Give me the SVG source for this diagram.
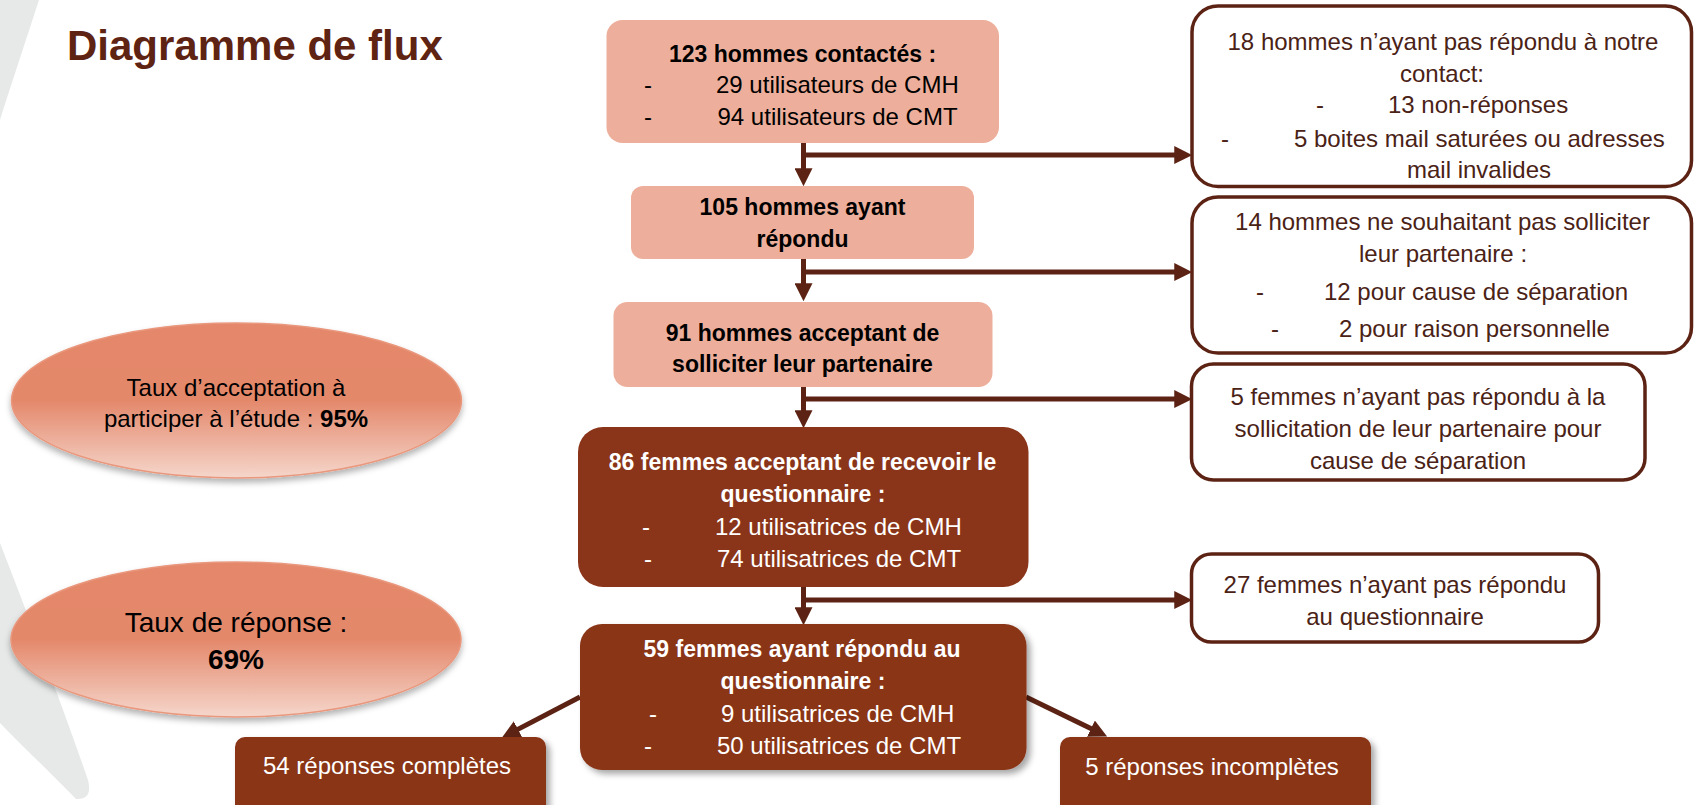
<svg xmlns="http://www.w3.org/2000/svg" width="1694" height="805" viewBox="0 0 1694 805">
<defs>
<style>
text{font-family:"Liberation Sans",Arial,sans-serif;}
.t{font-size:24px;}
.b{font-size:23px;font-weight:bold;}
.c{text-anchor:middle;}
.k{fill:#000;}
.w{fill:#fff;}
.br{fill:#4A2216;}
.salmon{fill:#EDAF9B;}
.dark{fill:#8A3519;}
.outl{fill:#fff;stroke:#5C2314;stroke-width:3.5;}
.conn{stroke:#5C2314;stroke-width:5;fill:none;marker-end:url(#ah);}
.ell{fill:url(#eg);stroke:#E9987E;stroke-width:1.5;filter:url(#esh);}
</style>
<marker id="ah" markerUnits="userSpaceOnUse" markerWidth="18" markerHeight="18" refX="6" refY="8" orient="auto" viewBox="0 0 16 16">
<path d="M0,0 L16,8 L0,16 Z" fill="#5C2314"/>
</marker>
<linearGradient id="eg" x1="0" y1="0" x2="0" y2="1">
<stop offset="0" stop-color="#E4876A"/>
<stop offset="0.5" stop-color="#E4886B"/>
<stop offset="1" stop-color="#F5D6CB"/>
</linearGradient>
<filter id="esh" x="-10%" y="-10%" width="120%" height="130%">
<feDropShadow dx="0" dy="4" stdDeviation="3" flood-color="#000" flood-opacity="0.3"/>
</filter>
<filter id="bsh" x="-10%" y="-10%" width="125%" height="130%">
<feDropShadow dx="4" dy="4" stdDeviation="3" flood-color="#000" flood-opacity="0.35"/>
</filter>
</defs>
<rect width="1694" height="805" fill="#fff"/>
<g id="background">
<path d="M0,0 L39,0 C26,40 12,82 0,120 Z" fill="#E7E9E9"/>
<path d="M0,543 C30,620 62,705 88,780 Q93,800 76,799 C50,772 24,748 0,723 Z" fill="#E7E9E9"/>
</g>
<g id="title">
<text x="67" y="60" style="font-size:42px;font-weight:bold;fill:#5E2312">Diagramme de flux</text>
</g>
<g id="connectors">
<path class="conn" d="M803.5,143 V175"/>
<path class="conn" d="M803.5,155 H1181"/>
<path class="conn" d="M803.5,259 V290"/>
<path class="conn" d="M803.5,272 H1181"/>
<path class="conn" d="M803.5,387 V417"/>
<path class="conn" d="M803.5,399 H1181"/>
<path class="conn" d="M803.5,587 V614"/>
<path class="conn" d="M803.5,600 H1181"/>
<path class="conn" d="M580,697 L512,732.4"/>
<path class="conn" d="M1026,697 L1097,731.6"/>
</g>
<g id="n1">
<rect class="salmon" x="606.5" y="20" width="392.5" height="123" rx="16"/>
<text class="b c k" x="802.5" y="62">123 hommes contactés :</text>
<text class="t k" x="644" y="93">-</text>
<text class="t k" x="716" y="93">29 utilisateurs de CMH</text>
<text class="t k" x="644" y="125">-</text>
<text class="t k" x="717.5" y="125">94 utilisateurs de CMT</text>
</g>
<g id="n2">
<rect class="salmon" x="631" y="186" width="343" height="73" rx="12"/>
<text class="b c k" x="802.5" y="215">105 hommes ayant</text>
<text class="b c k" x="802.5" y="247">répondu</text>
</g>
<g id="n3">
<rect class="salmon" x="613.5" y="302" width="379" height="85" rx="14"/>
<text class="b c k" x="802.5" y="341">91 hommes acceptant de</text>
<text class="b c k" x="802.5" y="372">solliciter leur partenaire</text>
</g>
<g id="n4">
<rect class="dark" x="578" y="427" width="450.5" height="160" rx="25"/>
<text class="b c w" x="802.5" y="470">86 femmes acceptant de recevoir le</text>
<text class="b c w" x="803" y="502">questionnaire :</text>
<text class="t w" x="642" y="535">-</text>
<text class="t w" x="715" y="535">12 utilisatrices de CMH</text>
<text class="t w" x="644" y="567">-</text>
<text class="t w" x="717" y="567">74 utilisatrices de CMT</text>
</g>
<g id="n5">
<rect class="dark" x="580" y="624" width="446.5" height="146" rx="22" filter="url(#bsh)"/>
<text class="b c w" x="802" y="657">59 femmes ayant répondu au</text>
<text class="b c w" x="803" y="689">questionnaire :</text>
<text class="t w" x="649" y="722">-</text>
<text class="t w" x="721" y="722">9 utilisatrices de CMH</text>
<text class="t w" x="644" y="754">-</text>
<text class="t w" x="717" y="754">50 utilisatrices de CMT</text>
</g>
<g id="r1">
<rect class="outl" x="1192" y="6" width="499.5" height="180.5" rx="26"/>
<text class="t c br" x="1443" y="50">18 hommes n’ayant pas répondu à notre</text>
<text class="t c br" x="1442" y="82">contact:</text>
<text class="t br" x="1316" y="113">-</text>
<text class="t br" x="1388" y="113">13 non-réponses</text>
<text class="t br" x="1221" y="147">-</text>
<text class="t br" x="1294" y="147">5 boites mail saturées ou adresses</text>
<text class="t c br" x="1479" y="178">mail invalides</text>
</g>
<g id="r2">
<rect class="outl" x="1192" y="197" width="499.5" height="156" rx="26"/>
<text class="t c br" x="1442.5" y="230">14 hommes ne souhaitant pas solliciter</text>
<text class="t c br" x="1443" y="262">leur partenaire :</text>
<text class="t br" x="1256" y="300">-</text>
<text class="t br" x="1324" y="300">12 pour cause de séparation</text>
<text class="t br" x="1271" y="337">-</text>
<text class="t br" x="1339" y="337">2 pour raison personnelle</text>
</g>
<g id="r3">
<rect class="outl" x="1191.5" y="364" width="453.5" height="116" rx="22"/>
<text class="t c br" x="1418" y="405">5 femmes n’ayant pas répondu à la</text>
<text class="t c br" x="1418" y="437">sollicitation de leur partenaire pour</text>
<text class="t c br" x="1418" y="469">cause de séparation</text>
</g>
<g id="r4">
<rect class="outl" x="1191.5" y="554" width="407" height="88" rx="20"/>
<text class="t c br" x="1395" y="593">27 femmes n’ayant pas répondu</text>
<text class="t c br" x="1395" y="625">au questionnaire</text>
</g>
<g id="e1">
<ellipse class="ell" cx="236.5" cy="400.5" rx="225" ry="77.5"/>
<text class="t c k" x="236" y="396">Taux d’acceptation à</text>
<text class="t c k" x="236" y="427">participer à l’étude : <tspan font-weight="bold">95%</tspan></text>
</g>
<g id="e2">
<ellipse class="ell" cx="236" cy="639.5" rx="225" ry="77.5"/>
<text class="c k" x="236" y="632" style="font-size:28px">Taux de réponse :</text>
<text class="c k" x="236" y="669" style="font-size:28px;font-weight:bold">69%</text>
</g>
<g id="n6">
<rect class="dark" x="235" y="737" width="311" height="80" rx="10" filter="url(#bsh)"/>
<text class="t c w" x="387" y="774">54 réponses complètes</text>
</g>
<g id="n7">
<rect class="dark" x="1060" y="737" width="311" height="80" rx="10" filter="url(#bsh)"/>
<text class="t c w" x="1212" y="775">5 réponses incomplètes</text>
</g>
</svg>
